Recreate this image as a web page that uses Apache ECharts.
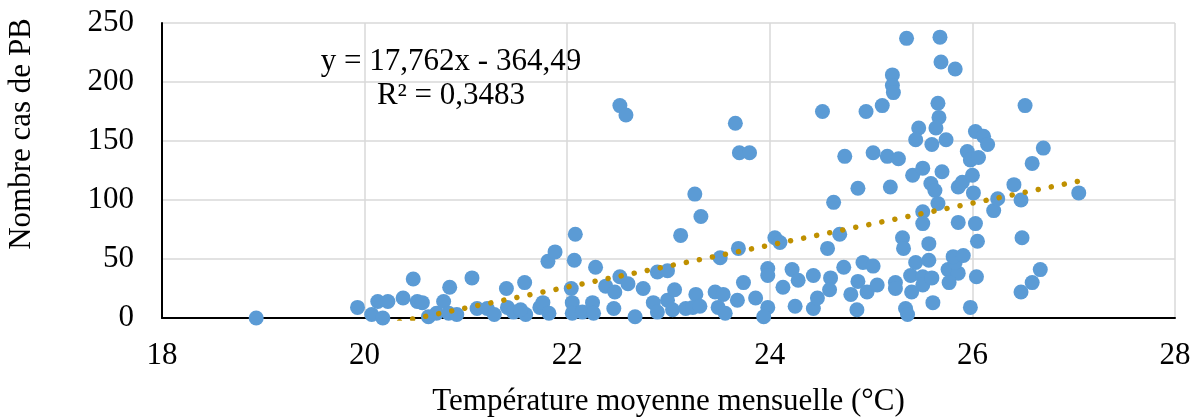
<!DOCTYPE html>
<html>
<head>
<meta charset="utf-8">
<script src="https://cdn.jsdelivr.net/npm/echarts@6/dist/echarts.min.js"></script>
<style>
  html, body { margin: 0; padding: 0; background: #fff; }
  #chart { width: 1198px; height: 417px; }
</style>
</head>
<body>
<div id="chart"></div>
<script>
// temperature moyenne mensuelle (°C)
const temp = [
  18.93, 19.93, 20.07, 20.18, 20.13, 20.23, 20.38, 20.48, 20.52, 20.57, 20.63, 20.71, 20.78, 20.84, 20.83, 20.91,
  21.06, 21.11, 21.21, 21.28, 21.40, 21.41, 21.47, 21.58, 21.59, 21.54, 21.73, 21.76, 21.82, 21.81, 21.88,
  22.08, 22.07, 22.28, 22.04, 22.05, 22.05, 22.15, 22.25, 22.26, 22.38, 22.47, 22.52, 22.60, 22.46, 22.67, 22.75,
  22.85, 22.89, 22.99, 23.06, 23.04, 23.17, 23.27, 23.24, 22.89, 22.99, 22.52, 22.58, 23.12, 23.26, 23.32,
  23.66, 23.70, 23.80, 23.51, 23.69, 23.31, 23.46, 23.54, 23.49, 23.56, 23.68, 23.74, 23.86, 23.98, 23.98, 23.98,
  23.94, 24.05, 24.10, 24.13, 24.22, 24.28, 24.25, 24.43, 24.43, 24.47, 24.57, 24.60, 24.59, 24.69, 24.73, 24.63,
  24.52, 24.74, 24.80, 24.86, 24.87,
  24.92, 25.02, 24.96, 25.06, 24.87, 24.95, 25.11, 25.21, 25.21, 25.22, 25.02, 25.16, 25.27, 25.19, 25.31, 25.32,
  25.24, 25.24, 25.39, 25.40, 25.51, 25.51, 25.60, 25.44, 25.57, 25.57, 25.34, 25.36, 25.35, 25.68, 25.69, 25.83,
  25.66, 25.67, 25.47, 25.64, 25.44, 25.60, 25.74, 25.41, 25.51, 25.70, 25.59, 25.63, 25.51, 25.51, 25.66, 25.86,
  25.76, 25.86, 25.83, 25.77, 25.81, 25.91, 25.61, 25.86, 25.90, 25.95, 25.98, 26.06, 26.00, 26.01, 26.03, 26.11,
  26.15, 26.03, 26.05, 26.04, 25.98, 26.21, 26.25,
  26.41, 26.48, 26.52, 26.49, 26.59, 26.70, 26.67, 26.59, 26.48, 27.05
];
// nombre de cas de PB
const cases = [
  0, 9, 3, 0, 14, 14, 17, 33, 14, 13, 1, 4, 14, 26, 4, 3,
  34, 8, 8, 3, 25, 9, 5, 30, 3, 7, 9, 13, 4, 48, 56,
  71, 49, 43, 25, 13, 4, 5, 13, 4, 27, 22, 35, 29, 8, 1, 25,
  13, 5, 15, 24, 7, 8, 20, 9, 39, 40, 180, 172, 70, 105, 86,
  165, 140, 140, 51, 59, 10, 22, 20, 9, 4, 15, 30, 17, 42, 36, 9,
  1, 68, 64, 26, 41, 32, 10, 36, 8, 17, 59, 34, 24, 71, 43, 98,
  175, 137, 20, 7, 31,
  47, 44, 22, 28, 110, 175, 180, 206, 197, 191, 140, 137, 135, 111, 68, 59,
  30, 25, 36, 22, 35, 28, 34, 47, 49, 63, 8, 3, 237, 238, 217, 211,
  182, 170, 161, 161, 151, 147, 151, 121, 127, 124, 114, 108, 90, 80, 97, 81,
  41, 38, 47, 30, 52, 53, 13, 111, 115, 141, 134, 136, 121, 106, 158, 154,
  147, 80, 65, 35, 9, 91, 101,
  113, 100, 180, 68, 131, 144, 41, 30, 22, 106
];
// courbe de tendance linéaire : y = 17,762x - 364,49 (extrémités)
const trendX = [18.93, 27.05];
const trendY = [-28.3, 115.97];

const xTicks = { min: 18, max: 28, interval: 2 };
const yTicks = { min: 0, max: 250, interval: 50 };

const points = temp.map((t, i) => [t, cases[i]]);
const trend = trendX.map((t, i) => [t, trendY[i]]);

const font = '"Liberation Serif", "Times New Roman", serif';
const chart = echarts.init(document.getElementById('chart'));

chart.setOption({
  backgroundColor: '#fff',
  animation: false,
  grid: { left: 162, right: 23, top: 23, bottom: 99, outerBoundsMode: 'none' },
  xAxis: {
    type: 'value',
    min: xTicks.min, max: xTicks.max, interval: xTicks.interval,
    name: 'Température moyenne mensuelle (°C)',
    nameLocation: 'middle',
    nameGap: 68,
    nameTextStyle: { fontFamily: font, fontSize: 31, color: '#000' },
    axisLine: { show: true, onZero: false, lineStyle: { color: '#000', width: 2 } },
    axisTick: { show: false },
    axisLabel: { fontFamily: font, fontSize: 31, color: '#000', margin: 22 },
    splitLine: { show: true, lineStyle: { color: '#d9d9d9', width: 1.5 } }
  },
  yAxis: {
    type: 'value',
    min: yTicks.min, max: yTicks.max, interval: yTicks.interval,
    axisLine: { show: true, lineStyle: { color: '#000', width: 2 } },
    axisTick: { show: false },
    axisLabel: { fontFamily: font, fontSize: 31, color: '#000', margin: 28 },
    splitLine: { show: true, lineStyle: { color: '#d9d9d9', width: 1.5 } }
  },
  graphic: [
    {
      type: 'text', x: 22, y: 134, rotation: Math.PI / 2,
      style: { text: 'Nombre cas de PB', font: '31px ' + font, fill: '#000', textAlign: 'center', textVerticalAlign: 'middle' }
    },
    {
      type: 'text', x: 451, y: 62,
      style: { text: 'y = 17,762x - 364,49', font: '31px ' + font, fill: '#000', textAlign: 'center', textVerticalAlign: 'middle' }
    },
    {
      type: 'text', x: 451, y: 96,
      style: { text: 'R² = 0,3483', font: '31px ' + font, fill: '#000', textAlign: 'center', textVerticalAlign: 'middle' }
    }
  ],
  series: [
    {
      type: 'scatter',
      data: points,
      symbolSize: 15,
      itemStyle: { color: '#5b9bd5', opacity: 1 },
      z: 2
    },
    {
      type: 'line',
      data: trend,
      symbol: 'none',
      clip: true,
      lineStyle: { color: '#bf9000', width: 5.5, type: [0.01, 13.3], cap: 'round' },
      z: 3
    }
  ]
});
</script>
</body>
</html>
